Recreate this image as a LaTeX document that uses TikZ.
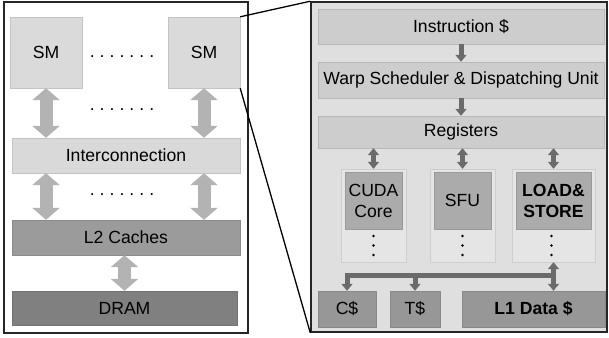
\documentclass[tikz,border=0pt]{standalone}
\usepackage{fontspec}
\setmainfont{Liberation Sans}
\usetikzlibrary{positioning,arrows.meta}

\definecolor{smgray}{HTML}{DADADA}
\definecolor{icgray}{HTML}{D9D9D9}
\definecolor{l2gray}{HTML}{9B9B9B}
\definecolor{dramgray}{HTML}{808080}
\definecolor{panelgray}{HTML}{DFDFDF}
\definecolor{unitgray}{HTML}{CDCDCD}
\definecolor{colgray}{HTML}{E5E5E5}
\definecolor{coregray}{HTML}{ABABAB}
\definecolor{cachegray}{HTML}{979797}
\definecolor{arrowlight}{HTML}{B3B3B3}
\definecolor{arrowdark}{HTML}{6B6B6B}

\newcommand\labelsize{\fontsize{17.6}{21}\selectfont}
\newcommand\dotrow{{\spaceskip=3.4pt . . . . . . .}}

\begin{document}
\begin{tikzpicture}[x=1pt,y=-1pt,
    font=\labelsize,
    frame/.style={draw=black!85,line width=1.5pt,fill=#1,inner sep=0pt},
    blk/.style={draw=#1!90!black,fill=#1,inner sep=0pt,align=center},
    wide/.style={draw=arrowlight,line width=13pt,{Triangle[width=27pt,length=12pt]}-{Triangle[width=27pt,length=12pt]}},
    narrow/.style={draw=arrowdark,line width=5pt,-{Triangle[width=11pt,length=7pt]}},
    narrows/.style={draw=arrowdark,line width=5pt,{Triangle[width=11pt,length=7pt]}-{Triangle[width=11pt,length=7pt]}},
    dots/.style={inner sep=0pt}]
    \useasboundingbox (0,0) rectangle (609,337);

    \node[frame=white,minimum width=244pt,minimum height=331pt] (gpu) at (126,167.5) {};
    \node[blk=smgray,minimum width=72pt,minimum height=71pt] (sm1) at (46,52.5) {SM};
    \node[blk=smgray,minimum width=72pt,minimum height=71pt] (sm2) at (204,52.5) {SM};
    \node[dots] (d1) at (122,57) {\dotrow};
    \node[dots] (d2) at (122,110) {\dotrow};
    \node[blk=icgray,minimum width=228pt,minimum height=35pt] (ic) at (126,155.5) {Interconnection};
    \node[dots] (d3) at (122,195) {\dotrow};
    \node[blk=l2gray,minimum width=228pt,minimum height=35pt] (l2) at (126,237.5) {L2 Caches};
    \node[blk=dramgray,minimum width=225pt,minimum height=34pt] (dram) at (124.5,308) {DRAM};
    \draw[wide] (sm1.south) -- (sm1.south |- ic.north);
    \draw[wide] (sm2.south) -- (sm2.south |- ic.north);
    \draw[wide] (ic.south -| sm1) -- (l2.north -| sm1);
    \draw[wide] (ic.south -| sm2) -- (l2.north -| sm2);
    \draw[wide] (l2.south -| dram) -- (dram.north);

    \node[frame=panelgray,minimum width=296pt,minimum height=330pt] (smpanel) at (459,167) {};
    \node[blk=unitgray,minimum width=286pt,minimum height=35pt] (icache) at (461,26.5) {Instruction \$};
    \node[blk=unitgray,minimum width=286pt,minimum height=36pt] (warp) at (461,80) {Warp Scheduler \& Dispatching Unit};
    \node[blk=unitgray,minimum width=286pt,minimum height=32pt] (reg) at (461,132) {Registers};
    \draw[narrow] (icache.south) -- (warp.north);
    \draw[narrow] (warp.south) -- (reg.north);

    \node[blk=colgray,minimum width=65pt,minimum height=93pt] (colA) at (373.5,215.5) {};
    \node[blk=colgray,minimum width=65pt,minimum height=93pt] (colB) at (462.5,215.5) {};
    \node[blk=colgray,minimum width=83pt,minimum height=93pt] (colC) at (553.5,215.5) {};
    \node[blk=coregray,minimum width=57pt,minimum height=57pt] (cuda) at (373.5,200.5) {CUDA\\Core};
    \node[blk=coregray,minimum width=57pt,minimum height=57pt] (sfu) at (462.5,200.5) {SFU};
    \node[blk=coregray,minimum width=75pt,minimum height=57pt,font=\labelsize\bfseries] (ls) at (553.5,200.5) {LOAD\&\\STORE};
    \foreach \x in {373.5,462.5,551.5}
        \foreach \y in {236,245.5,255}
            \fill (\x,\y) circle (1.3pt);
    \draw[narrows] (reg.south -| colA) -- (colA.north);
    \draw[narrows] (reg.south -| colB) -- (colB.north);
    \draw[narrows] (reg.south -| colC) -- (colC.north);

    \node[blk=cachegray,minimum width=58pt,minimum height=36pt] (cc) at (347,309) {C\$};
    \node[blk=cachegray,minimum width=50pt,minimum height=36pt] (tc) at (415,309) {T\$};
    \node[blk=cachegray,minimum width=143pt,minimum height=36pt,font=\labelsize\bfseries] (l1) at (533.5,309) {L1 Data \$};
    \coordinate (bus) at (0,275);
    \draw[narrow] (colC.south |- bus) -- (cc.north |- bus) -- (cc.north);
    \draw[narrow] (tc.north |- bus) -- (tc.north);
    \draw[narrows] (colC.south) -- (colC.south |- l1.north);

    \draw[line width=1.3pt] (sm2.north east) -- (smpanel.north west);
    \draw[line width=1.3pt] (sm2.south east) -- (smpanel.south west);
\end{tikzpicture}
\end{document}
